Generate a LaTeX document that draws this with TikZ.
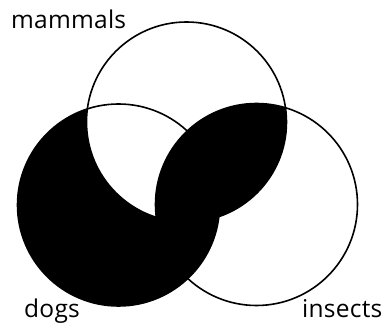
\documentclass[tikz,border=0pt]{standalone}
\usepackage{fontspec}
\setmainfont{Open Sans}[LetterSpace=1]
\begin{document}
\begin{tikzpicture}[x=1pt,y=1pt,
  lbl/.style={inner sep=0pt,anchor=base west,font=\fontsize{24.5}{27}\selectfont},
  ring/.style={draw=black,line width=1.6pt}]
\useasboundingbox (0,0) rectangle (384,324);
\def\mam{(186.5,202) circle[radius=100]}
\def\dog{(118.5,119) circle[radius=101]}
\def\ins{(256.5,119.5) circle[radius=101]}
% dogs black
\fill[black] \dog;
% dogs & mammals white, mammals & insects black
\begin{scope}
  \clip \mam;
  \fill[white] \dog;
  \fill[black] \ins;
\end{scope}
\draw[ring] \mam;
\draw[ring] \dog;
\draw[ring] \ins;
\node[lbl] (m) at (11,295.7) {mammals};
\node[lbl] (d) at (24,6.7) {dogs};
\node[lbl] (i) at (302,6.7) {insects};
\end{tikzpicture}
\end{document}
